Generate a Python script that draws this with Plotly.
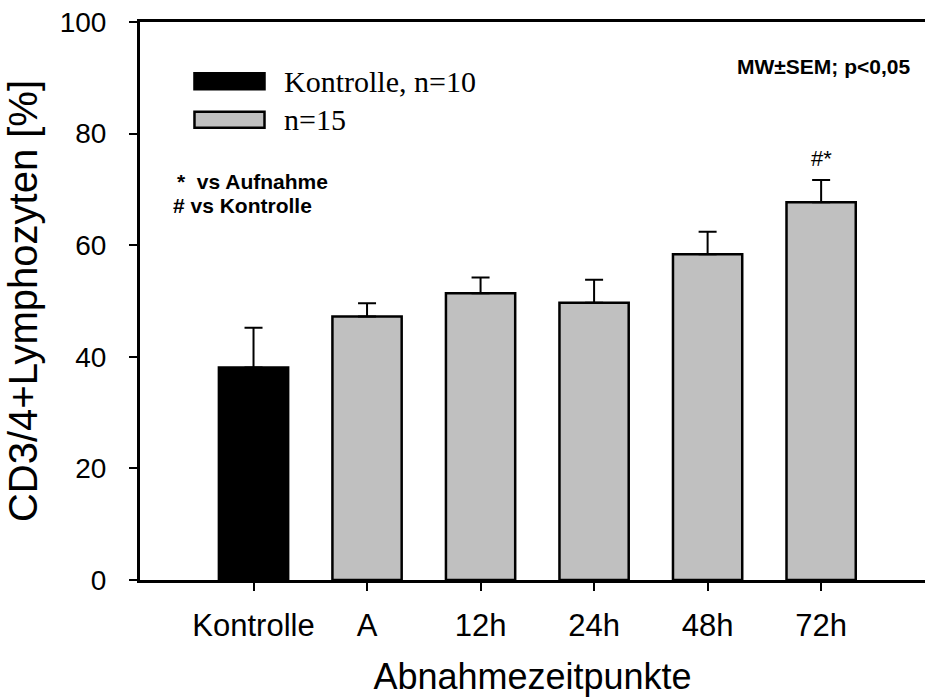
import plotly.graph_objects as go

categories = ["Kontrolle", "A", "12h", "24h", "48h", "72h"]
means = [38.1, 47.2, 51.4, 49.7, 58.4, 67.7]
sem = [7.1, 2.4, 2.8, 4.1, 4.0, 4.0]
bar_colors = ["#000000", "#c0c0c0", "#c0c0c0", "#c0c0c0", "#c0c0c0", "#c0c0c0"]
y_ticks = [0, 20, 40, 60, 80, 100]
legend_labels = ["Kontrolle, n=10", "n=15"]
legend_colors = ["#000000", "#c0c0c0"]
sig_labels = ["", "", "", "", "", "#*"]

fig = go.Figure()
fig.add_trace(go.Bar(
    x=categories, y=means,
    marker=dict(color=bar_colors, line=dict(color="black", width=2.5)),
    width=0.61,
    error_y=dict(type="data", array=sem, arrayminus=[0] * len(sem), symmetric=False,
                 color="black", thickness=2, width=9),
    showlegend=False,
))

for c, m, s, lab in zip(categories, means, sem, sig_labels):
    if lab:
        fig.add_annotation(x=c, y=m + s, text=lab, showarrow=False, yshift=21,
                           font=dict(family="Liberation Sans, Arial", size=22, color="black"))

# manual legend
leg_y = [0.894, 0.825]
for lab, col, yy in zip(legend_labels, legend_colors, leg_y):
    fig.add_shape(type="rect", xref="paper", yref="paper",
                  x0=0.0694, x1=0.1586, y0=yy - 0.0143, y1=yy + 0.0143,
                  fillcolor=col, line=dict(color="black", width=2.5))
    fig.add_annotation(xref="paper", yref="paper", x=0.1806, y=yy, text=lab,
                       showarrow=False, xanchor="left", yanchor="middle",
                       font=dict(family="Liberation Serif, Times New Roman", size=30, color="black"))

fig.add_annotation(xref="paper", yref="paper", x=0.045, y=0.715, text="*  vs Aufnahme",
                   showarrow=False, xanchor="left", yanchor="middle",
                   font=dict(family="Liberation Sans, Arial", size=21, color="black", weight="bold"))
fig.add_annotation(xref="paper", yref="paper", x=0.039, y=0.672, text="# vs Kontrolle",
                   showarrow=False, xanchor="left", yanchor="middle",
                   font=dict(family="Liberation Sans, Arial", size=21, color="black", weight="bold"))
fig.add_annotation(xref="paper", yref="paper", x=0.983, y=0.921, text="MW±SEM; p<0,05",
                   showarrow=False, xanchor="right", yanchor="middle",
                   font=dict(family="Liberation Sans, Arial", size=21, color="black", weight="bold"))

fig.update_layout(
    width=925, height=697,
    margin=dict(l=140, r=0, t=22, b=117),
    paper_bgcolor="white", plot_bgcolor="white",
    font=dict(family="Liberation Sans, Arial", color="black"),
)
fig.update_xaxes(
    range=[-1, 5.915], showline=True, linecolor="black", linewidth=3, mirror=True,
    ticks="outside", ticklen=8, tickwidth=2, tickcolor="black",
    tickfont=dict(size=31), ticklabelstandoff=8,
    title=dict(text="Abnahmezeitpunkte", font=dict(size=36), standoff=26),
    showgrid=False, zeroline=False,
)
fig.update_yaxes(
    range=[0, 100], tickvals=y_ticks, showline=True, linecolor="black", linewidth=3,
    ticks="outside", ticklen=8, tickwidth=2, tickcolor="black",
    tickfont=dict(size=28), ticklabelstandoff=17, ticklabeloverflow="allow",
    title=dict(text="CD3/4+Lymphozyten [%]", font=dict(size=40), standoff=10),
    showgrid=False, zeroline=False,
)

fig.write_html(
    "out.html",
    config={"displayModeBar": False},
    post_script="document.body.style.margin='0px';document.body.style.overflow='hidden';",
)
